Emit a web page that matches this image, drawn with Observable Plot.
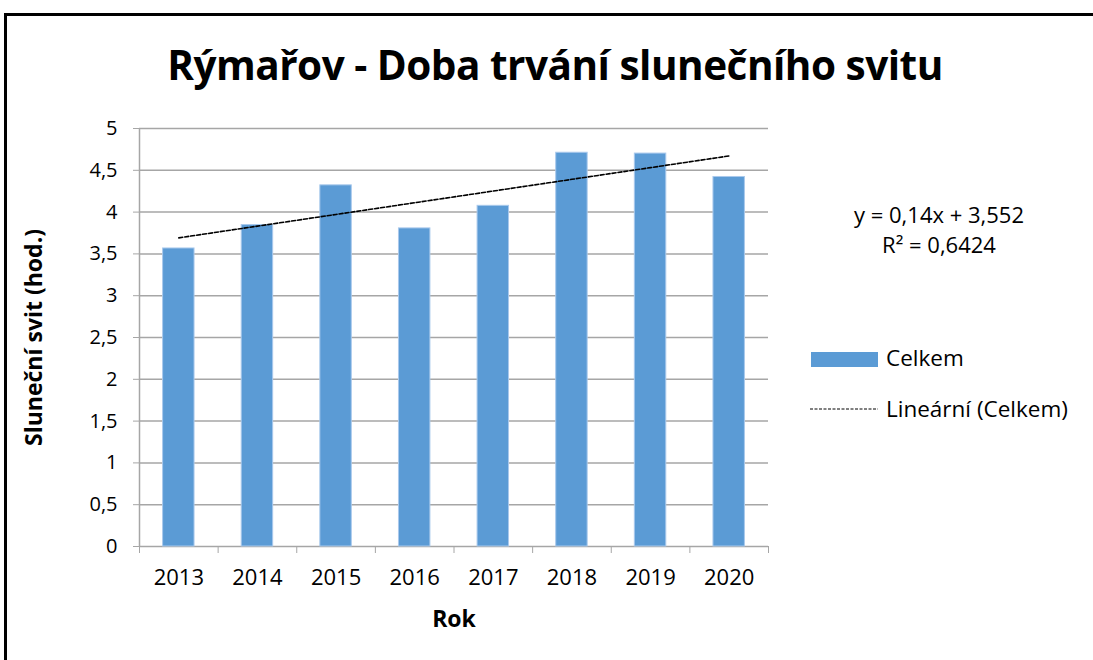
<!DOCTYPE html>
<html>
<head>
<meta charset="utf-8">
<script src="https://cdn.jsdelivr.net/npm/d3@7"></script>
<script src="https://cdn.jsdelivr.net/npm/@observablehq/plot@0.6"></script>
<style>
  html, body { margin: 0; padding: 0; background: #fff; overflow: hidden; }
  #wrap { position: relative; width: 1093px; height: 660px; font-family: "Open Sans", sans-serif; }
  #frame { position: absolute; left: 4px; top: 13px; width: 2000px; height: 2000px; border: 3px solid #000; box-sizing: border-box; }
  .ov { position: absolute; color: #000; white-space: nowrap; }
  #title { left: 0; width: 1110px; text-align: center; top: 37px; font-size: 40.5px; font-weight: bold; letter-spacing: -0.5px; }
  .eq { font-size: 22px; width: 240px; text-align: center; left: 819px; }
  .leg { font-size: 22.5px; left: 886px; }
  #plot { position: absolute; left: 0; top: 0; }
</style>
</head>
<body>
<div id="wrap">
  <div id="frame"></div>
  <div id="plot"></div>
  <div class="ov" id="title"></div>
  <div class="ov eq" id="eq1" style="top:199px"></div>
  <div class="ov eq" id="eq2" style="top:229px"></div>
  <svg class="ov" style="left:810px;top:350px" width="70" height="70">
    <rect x="1" y="2" width="67" height="15" fill="#5B9BD5"></rect>
    <line x1="0" x2="68" y1="59" y2="59" stroke="#000" stroke-width="1" stroke-dasharray="3,1.5"></line>
  </svg>
  <div class="ov leg" id="leg1" style="top:342px"></div>
  <div class="ov leg" id="leg2" style="top:393px"></div>
</div>
<script>
const titleText = "Rýmařov - Doba trvání slunečního svitu";
const xLabel = "Rok";
const yLabel = "Sluneční svit (hod.)";
const years = [2013, 2014, 2015, 2016, 2017, 2018, 2019, 2020];
const values = [3.565, 3.845, 4.32, 3.805, 4.075, 4.71, 4.70, 4.42];
const trendSlope = 0.14;
const trendIntercept = 3.552;
const rSquared = "0,6424";
const seriesName = "Celkem";
const trendName = "Lineární (Celkem)";
const yTicks = [0, 0.5, 1, 1.5, 2, 2.5, 3, 3.5, 4, 4.5, 5];

const data = years.map((year, i) => ({year, value: values[i]}));
const trend = years.map((year, i) => ({year, value: trendSlope * (i + 1) + trendIntercept}));
const boundaries = years.concat([years[years.length - 1] + 1]).map(y => y - 0.5);
const fmt = v => String(v).replace(".", ",");

document.getElementById("title").textContent = titleText;
document.getElementById("eq1").textContent = `y = ${fmt(trendSlope)}x + ${fmt(trendIntercept)}`;
document.getElementById("eq2").textContent = `R² = ${rSquared}`;
document.getElementById("leg1").textContent = seriesName;
document.getElementById("leg2").textContent = trendName;

const gray = "#A6A6A6";
const chart = Plot.plot({
  width: 1093,
  height: 660,
  marginLeft: 139,
  marginRight: 325,
  marginTop: 128,
  marginBottom: 114,
  style: {fontFamily: "'Open Sans', sans-serif", fontSize: "20px", color: "#000", background: "transparent"},
  x: {type: "linear", domain: [boundaries[0], boundaries[boundaries.length - 1]]},
  y: {domain: [0, 5]},
  marks: [
    Plot.gridY(yTicks, {stroke: gray, strokeOpacity: 1, strokeWidth: 1.5}),
    Plot.ruleX([boundaries[0]], {stroke: gray, strokeWidth: 1.5}),
    Plot.axisY(yTicks, {tickSize: 6, tickPadding: 16, stroke: gray, tickFormat: fmt, label: null, fontSize: 20}),
    Plot.axisX(boundaries, {tickSize: 7, stroke: gray, tickFormat: () => "", label: null}),
    Plot.axisX(years, {tickSize: 0, tickPadding: 23, tickFormat: d => String(d), label: null, fontSize: 22}),
    Plot.rectY(data, {x1: d => d.year - 0.2, x2: d => d.year + 0.2, y: "value", fill: "#5B9BD5", stroke: "#A9C9EC", strokeWidth: 1}),
    Plot.line(trend, {x: "year", y: "value", stroke: "#000", strokeWidth: 1.6, strokeDasharray: "4,2"}),
    Plot.text([xLabel], {frameAnchor: "bottom", dy: 80, fontWeight: "bold", fontSize: 23}),
    Plot.text([yLabel], {frameAnchor: "left", textAnchor: "middle", dx: -105, rotate: -90, fontWeight: "bold", fontSize: 23})
  ]
});
document.getElementById("plot").appendChild(chart);
</script>
</body>
</html>
